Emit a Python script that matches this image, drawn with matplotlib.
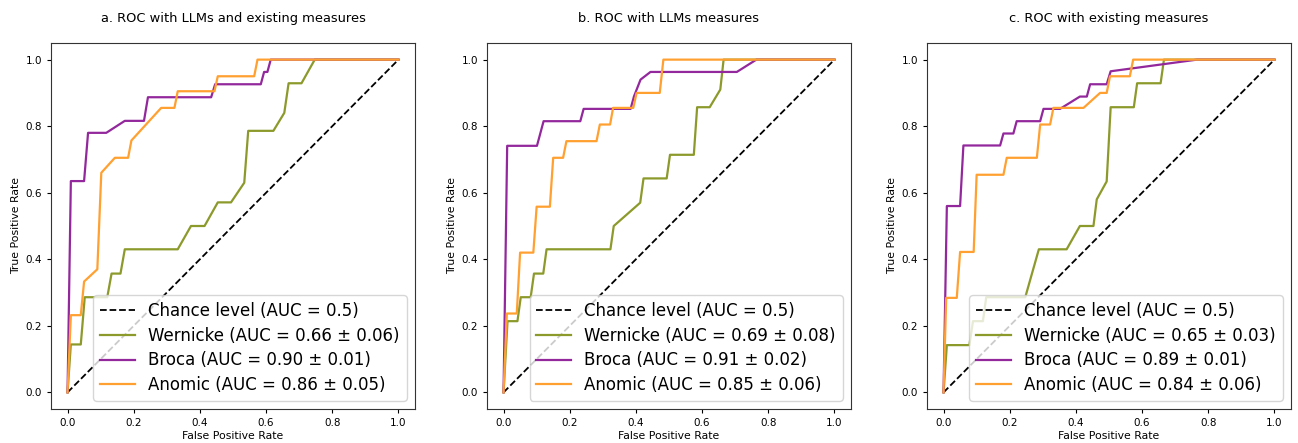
import matplotlib
matplotlib.use("Agg")
import matplotlib.pyplot as plt
import numpy as np

titles = ["a. ROC with LLMs and existing measures",
          "b. ROC with LLMs measures",
          "c. ROC with existing measures"]

auc_labels = [
    ["Wernicke (AUC = 0.66 \u00b1 0.06)", "Broca (AUC = 0.90 \u00b1 0.01)", "Anomic (AUC = 0.86 \u00b1 0.05)"],
    ["Wernicke (AUC = 0.69 \u00b1 0.08)", "Broca (AUC = 0.91 \u00b1 0.02)", "Anomic (AUC = 0.85 \u00b1 0.06)"],
    ["Wernicke (AUC = 0.65 \u00b1 0.03)", "Broca (AUC = 0.89 \u00b1 0.01)", "Anomic (AUC = 0.84 \u00b1 0.06)"],
]

# panel a
wer_a_fpr = [0, 0.01, 0.04, 0.052, 0.12, 0.133, 0.16, 0.173, 0.333, 0.373, 0.414, 0.454, 0.494, 0.534, 0.546, 0.622, 0.655, 0.668, 0.707, 0.747, 1.0]
wer_a_tpr = [0, 0.144, 0.144, 0.286, 0.286, 0.357, 0.357, 0.43, 0.43, 0.5, 0.5, 0.571, 0.571, 0.63, 0.786, 0.786, 0.84, 0.929, 0.929, 1.0, 1.0]
bro_a_fpr = [0, 0.01, 0.05, 0.062, 0.117, 0.173, 0.231, 0.243, 0.434, 0.446, 0.584, 0.594, 0.604, 0.614, 1.0]
bro_a_tpr = [0, 0.635, 0.635, 0.78, 0.78, 0.816, 0.816, 0.887, 0.887, 0.926, 0.926, 0.963, 0.963, 1.0, 1.0]
ano_a_fpr = [0, 0.01, 0.04, 0.05, 0.09, 0.102, 0.143, 0.183, 0.193, 0.283, 0.323, 0.333, 0.444, 0.454, 0.564, 0.574, 1.0]
ano_a_tpr = [0, 0.232, 0.232, 0.333, 0.37, 0.66, 0.705, 0.705, 0.757, 0.855, 0.855, 0.905, 0.905, 0.95, 0.95, 1.0, 1.0]

# panel b
wer_b_fpr = [0, 0.012, 0.042, 0.052, 0.082, 0.092, 0.12, 0.13, 0.323, 0.333, 0.413, 0.423, 0.493, 0.503, 0.575, 0.585, 0.623, 0.655, 0.665, 1.0]
wer_b_tpr = [0, 0.214, 0.214, 0.286, 0.286, 0.357, 0.357, 0.43, 0.43, 0.5, 0.57, 0.643, 0.643, 0.714, 0.714, 0.857, 0.857, 0.91, 1.0, 1.0]
bro_b_fpr = [0, 0.011, 0.101, 0.121, 0.232, 0.242, 0.384, 0.394, 0.414, 0.444, 0.705, 0.764, 1.0]
bro_b_tpr = [0, 0.741, 0.741, 0.815, 0.815, 0.852, 0.852, 0.889, 0.94, 0.963, 0.963, 1.0, 1.0]
ano_b_fpr = [0, 0.01, 0.04, 0.05, 0.09, 0.1, 0.14, 0.15, 0.18, 0.19, 0.281, 0.291, 0.322, 0.331, 0.392, 0.402, 0.472, 0.483, 1.0]
ano_b_tpr = [0, 0.237, 0.237, 0.42, 0.42, 0.558, 0.558, 0.705, 0.705, 0.755, 0.755, 0.805, 0.805, 0.855, 0.855, 0.9, 0.9, 1.0, 1.0]

# panel c
wer_c_fpr = [0, 0.01, 0.078, 0.089, 0.119, 0.129, 0.247, 0.288, 0.372, 0.412, 0.453, 0.463, 0.493, 0.505, 0.575, 0.585, 0.656, 0.666, 1.0]
wer_c_tpr = [0, 0.142, 0.142, 0.214, 0.214, 0.286, 0.286, 0.43, 0.43, 0.5, 0.5, 0.58, 0.634, 0.857, 0.857, 0.929, 0.929, 1.0, 1.0]
bro_c_fpr = [0, 0.01, 0.05, 0.06, 0.171, 0.181, 0.211, 0.221, 0.292, 0.302, 0.352, 0.412, 0.433, 0.443, 0.493, 0.505, 0.766, 1.0]
bro_c_tpr = [0, 0.56, 0.56, 0.742, 0.742, 0.778, 0.778, 0.815, 0.815, 0.852, 0.852, 0.889, 0.889, 0.926, 0.926, 0.965, 1.0, 1.0]
ano_c_fpr = [0, 0.008, 0.04, 0.05, 0.091, 0.1, 0.181, 0.191, 0.282, 0.292, 0.322, 0.332, 0.423, 0.473, 0.493, 0.503, 0.563, 0.573, 1.0]
ano_c_tpr = [0, 0.284, 0.284, 0.422, 0.422, 0.654, 0.654, 0.705, 0.705, 0.805, 0.805, 0.855, 0.855, 0.9, 0.9, 0.95, 0.95, 1.0, 1.0]

curves = [
    [(wer_a_fpr, wer_a_tpr), (bro_a_fpr, bro_a_tpr), (ano_a_fpr, ano_a_tpr)],
    [(wer_b_fpr, wer_b_tpr), (bro_b_fpr, bro_b_tpr), (ano_b_fpr, ano_b_tpr)],
    [(wer_c_fpr, wer_c_tpr), (bro_c_fpr, bro_c_tpr), (ano_c_fpr, ano_c_tpr)],
]
colors = ['#8c9a2c', '#93289c', '#ffa031']

fig = plt.figure(figsize=(12.98, 4.43), dpi=100)
lefts = [51/1298, 487/1298, 927/1298]
for i in range(3):
    ax = fig.add_axes([lefts[i], 1 - 409/443, 364/1298, 366/443])
    ax.plot([0, 1], [0, 1], 'k--', lw=1.3, label="Chance level (AUC = 0.5)")
    for j in range(3):
        ax.plot(curves[i][j][0], curves[i][j][1], color=colors[j], lw=1.6, label=auc_labels[i][j])
    ax.set_xlim(-0.05, 1.05)
    ax.set_ylim(-0.05, 1.05)
    ax.set_xticks([0, 0.2, 0.4, 0.6, 0.8, 1.0])
    ax.set_yticks([0, 0.2, 0.4, 0.6, 0.8, 1.0])
    ax.tick_params(labelsize=7.5, length=3)
    ax.set_xlabel("False Positive Rate", fontsize=7.8, labelpad=2)
    ax.set_ylabel("True Positive Rate", fontsize=7.8, labelpad=3)
    ax.set_title(titles[i], fontsize=9.4, pad=15)
    for s in ax.spines.values():
        s.set_color('#333333')
    ax.legend(loc="lower right", fontsize=12, handlelength=2.1, labelspacing=0.4,
              borderpad=0.4, handletextpad=0.8, borderaxespad=0.5)

plt.savefig("out.png", dpi=100)
